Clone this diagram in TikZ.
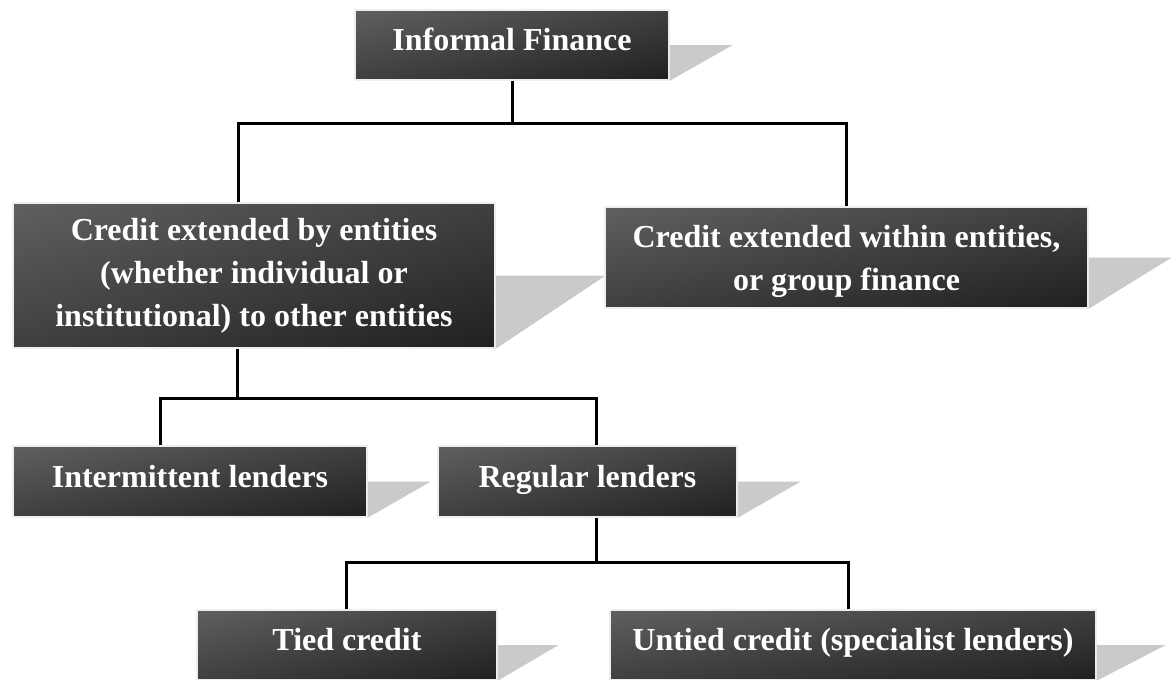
\documentclass[tikz,border=0pt]{standalone}
\usepackage{fontspec}
\setmainfont{Liberation Serif}
\usepackage{tikz}
\usetikzlibrary{positioning,calc}
\definecolor{boxedge}{HTML}{EEEEEE}
\definecolor{shadowgrey}{HTML}{CACACA}

% light grey in the top left corner, black in the bottom right one
\pgfdeclarefunctionalshading{boxdiag}{\pgfpointorigin}{\pgfpoint{100bp}{100bp}}{}{%
  exch sub 200 div 0.5 add 0.5 mul dup dup}

% box with its slanted grey shadow on the right
\newcommand{\shadowbox}[2]{%
  \fill[shadowgrey] (#1.east) -- ++(#2,0) -- (#1.south east) -- cycle;}

\begin{document}
\begin{tikzpicture}[
    x=1pt, y=-1pt,
    box/.style={draw=boxedge,line width=1.5pt,shade,shading=boxdiag,
      text=white,align=center,inner sep=0pt,font=\fontsize{32}{43}\selectfont\bfseries},
    onebox/.style={box,text height=22pt,text depth=11pt},
    link/.style={line width=3pt,draw=black}
  ]
    \useasboundingbox (0,0) rectangle (1171,680);
    % top level
    \node[onebox,minimum width=314pt,minimum height=70pt] (fin) at (512,45) {Informal Finance};
    \shadowbox{fin}{63}
    \node[box,minimum width=482pt,minimum height=145pt] (ext) at (254,275.5)
      {Credit extended by entities\\(whether individual or\\institutional) to other entities};
    \shadowbox{ext}{110}
    \node[box,text depth=0pt,minimum width=483pt,minimum height=101pt] (grp) at (846.5,257.5)
      {Credit extended within entities,\\or group finance};
    \shadowbox{grp}{83}
    % lenders
    \node[onebox,minimum width=354pt,minimum height=71pt] (intm) at (190,481.5) {Intermittent lenders};
    \shadowbox{intm}{63}
    \node[onebox,minimum width=299pt,minimum height=71pt] (reg) at (587.5,481.5) {Regular lenders};
    \shadowbox{reg}{63}
    % kinds of credit
    \node[onebox,minimum width=300pt,minimum height=70pt] (tied) at (347,645) {Tied credit};
    \shadowbox{tied}{61}
    \node[onebox,minimum width=486pt,minimum height=70pt] (untd) at (853,645) {Untied credit (specialist lenders)};
    \shadowbox{untd}{69}
    % tree lines
    \coordinate (j1) at (512,123);
    \coordinate (j2) at (237,398);
    \coordinate (j3) at (596.5,562);
    \draw[link] (fin) -- (j1);
    \draw[link] ([xshift=-16pt]ext.north) |- (j1) -| (grp.north);
    \draw[link] ([xshift=-17pt]ext.south) -- (j2);
    \draw[link] ([xshift=-30pt]intm.north) |- (j2) -| ([xshift=9pt]reg.north);
    \draw[link] ([xshift=9pt]reg.south) -- (j3);
    \draw[link] ([xshift=-1pt]tied.north) |- (j3) -| ([xshift=-5pt]untd.north);
\end{tikzpicture}
\end{document}
